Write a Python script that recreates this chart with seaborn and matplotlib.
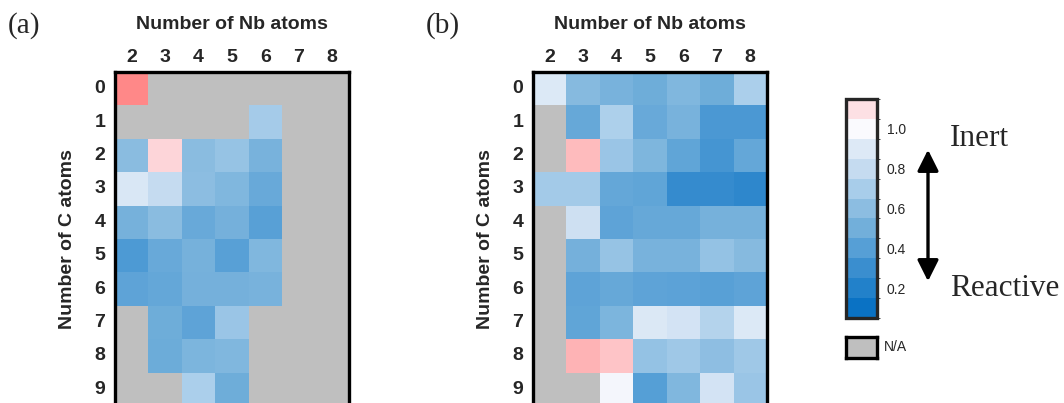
import numpy as np
import pandas as pd
import seaborn as sns
import matplotlib.pyplot as plt
import matplotlib as mpl
from matplotlib.colors import LinearSegmentedColormap, ListedColormap, BoundaryNorm

#%% data, NaN = N/A
nb_atoms = [2, 3, 4, 5, 6, 7, 8]
c_atoms = [0, 1, 2, 3, 4, 5, 6, 7, 8, 9]
nan = np.nan

ratio_a = [
    [1.92, nan, nan, nan, nan, nan, nan],
    [nan, nan, nan, nan, 0.69, nan, nan],
    [0.59, 1.20, 0.59, 0.64, 0.53, nan, nan],
    [0.88, 0.80, 0.60, 0.56, 0.47, nan, nan],
    [0.52, 0.59, 0.47, 0.51, 0.41, nan, nan],
    [0.37, 0.47, 0.52, 0.41, 0.56, nan, nan],
    [0.43, 0.45, 0.51, 0.51, 0.53, nan, nan],
    [nan, 0.49, 0.43, 0.65, nan, nan, nan],
    [nan, 0.48, 0.54, 0.56, nan, nan, nan],
    [nan, nan, 0.71, 0.49, nan, nan, nan],
]

ratio_b = [
    [0.90, 0.58, 0.53, 0.49, 0.56, 0.49, 0.71],
    [nan, 0.46, 0.72, 0.47, 0.53, 0.36, 0.36],
    [nan, 1.45, 0.65, 0.55, 0.44, 0.34, 0.45],
    [0.68, 0.68, 0.45, 0.44, 0.28, 0.28, 0.25],
    [nan, 0.84, 0.43, 0.46, 0.46, 0.52, 0.52],
    [nan, 0.51, 0.64, 0.53, 0.53, 0.63, 0.58],
    [nan, 0.43, 0.46, 0.43, 0.42, 0.41, 0.43],
    [nan, 0.44, 0.54, 0.89, 0.86, 0.74, 0.90],
    [nan, 1.52, 1.36, 0.63, 0.67, 0.61, 0.67],
    [nan, nan, 0.98, 0.40, 0.56, 0.86, 0.65],
]

# colour steps of the colour bar, 0.1 ... 1.1, plus deep pink for large values
level_values = [0.1, 0.2, 0.3, 0.4, 0.5, 0.6, 0.7, 0.8, 0.9, 1.0, 1.1, 2.0]
level_colors = ["#0A72C4", "#2281CA", "#3A8ECF", "#569FD6", "#72AFDA", "#8CBDE1",
                "#A8CDEA", "#C5DBF0", "#DDE9F6", "#FAFAFE", "#FDE0E4", "#FF8080"]
cbar_ticks = [0.2, 0.4, 0.6, 0.8, 1.0]

vmin, vmax = level_values[0], level_values[-1]
pos = [(v - vmin) / (vmax - vmin) for v in level_values]
cmap = LinearSegmentedColormap.from_list("inert", list(zip(pos, level_colors)))

#%% figure
sns.set_style("white")
plt.rcParams["font.family"] = ["Liberation Sans", "DejaVu Sans"]

fig = plt.figure(figsize=(10.64, 4.03), dpi=100)
W, H = 1064, 403
serif = ["Liberation Serif", "DejaVu Serif"]


def px_axes(x0, y0, x1, y1):
    # axes from pixel box (top-left origin)
    return fig.add_axes([x0 / W, 1 - y1 / H, (x1 - x0) / W, (y1 - y0) / H])


def draw_panel(ax, data, tag):
    df = pd.DataFrame(data, index=c_atoms, columns=nb_atoms)
    sns.heatmap(df, ax=ax, cmap=cmap, vmin=vmin, vmax=vmax, cbar=False, linewidths=0)
    ax.set_facecolor("#BFBFBF")
    ax.xaxis.tick_top()
    ax.xaxis.set_label_position("top")
    ax.set_xlabel("Number of Nb atoms", fontsize=14, fontweight="bold", labelpad=15)
    ax.set_ylabel("Number of C atoms", fontsize=14, fontweight="bold", labelpad=13)
    ax.tick_params(axis="x", length=0, labelsize=14, pad=4)
    ax.tick_params(axis="y", length=0, labelsize=14, pad=7)
    for lab in ax.get_xticklabels() + ax.get_yticklabels():
        lab.set_fontweight("bold")
        lab.set_rotation(0)
    for side in ["left", "top", "right"]:
        ax.spines[side].set_visible(True)
        ax.spines[side].set_color("black")
        ax.spines[side].set_linewidth(2.4)
    ax.spines["bottom"].set_visible(False)
    x_tag = ax.get_position().x0 - 107 / W
    fig.text(x_tag, 1 - 26 / H, tag, family=serif, fontsize=21, va="center", ha="left")


ax_a = px_axes(115, 72, 349, 406)
draw_panel(ax_a, ratio_a, "(a)")
ax_b = px_axes(533, 72, 767, 406)
draw_panel(ax_b, ratio_b, "(b)")

# discrete colour bar
cax = px_axes(846, 99, 877, 318)
bounds = np.arange(0.05, 1.2, 0.1)
cb = mpl.colorbar.ColorbarBase(cax, cmap=ListedColormap(level_colors[:11]),
                               norm=BoundaryNorm(bounds, 11), ticks=cbar_ticks)
cb.ax.set_yticklabels([f"{t:.1f}" for t in cbar_ticks])
cb.ax.tick_params(length=0, labelsize=10, pad=7)
cb.outline.set_linewidth(2.4)

# N/A swatch
nax = px_axes(846, 337, 877, 358)
nax.set_facecolor("#BFBFBF")
nax.set_xticks([])
nax.set_yticks([])
for s in nax.spines.values():
    s.set_linewidth(2.4)
    s.set_color("black")
fig.text(884 / W, 1 - 347 / H, "N/A", fontsize=10, va="center", ha="left")

# inert / reactive arrow
fig.add_artist(mpl.patches.FancyArrowPatch((928 / W, 1 - 147 / H), (928 / W, 1 - 284 / H),
                                           transform=fig.transFigure, arrowstyle="<|-|>",
                                           mutation_scale=32, lw=2.4, color="black"))
fig.text(950 / W, 1 - 139 / H, "Inert", family=serif, fontsize=22.5, va="center", ha="left")
fig.text(950 / W, 1 - 288 / H, "Reactive", family=serif, fontsize=22.5, va="center", ha="left")

fig.savefig("out.png", dpi=100)
